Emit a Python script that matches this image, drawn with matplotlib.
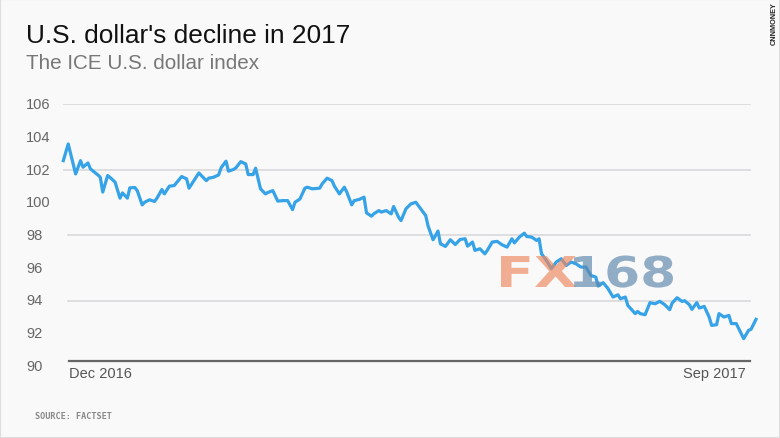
import matplotlib
matplotlib.use("Agg")
import matplotlib.pyplot as plt
import matplotlib.transforms as mtransforms
from matplotlib.textpath import TextPath
from matplotlib.patches import PathPatch
from matplotlib.font_manager import FontProperties
import numpy as np

plt.rcParams['font.family'] = ['Liberation Sans', 'DejaVu Sans']

# days after 2016-12-01 and the ICE U.S. dollar index
start = np.datetime64('2016-12-01')
days = [0, 2, 3, 5, 7, 8, 10, 11, 14, 15, 16, 18, 19, 21, 23, 24, 26, 27, 29, 30,
        32, 33, 35, 37, 38, 40, 41, 43, 45, 48, 50, 51, 55, 56, 58, 59, 61, 63, 64, 66,
        67, 69, 70, 72, 74, 75, 77, 78, 80, 82, 83, 85, 87, 89, 91, 93, 94, 96, 98, 99,
        101, 104, 105, 107, 109, 110, 112, 114, 115, 117, 118, 120, 122, 123, 125, 126, 128, 129, 131, 133,
        134, 136, 137, 139, 141, 143, 145, 147, 148, 150, 152, 153, 155, 157, 159, 161, 163, 164, 166, 167,
        169, 171, 172, 174, 176, 178, 180, 182, 183, 185, 187, 188, 190, 192, 193, 194, 196, 198, 200, 202,
        204, 206, 208, 210, 212, 214, 216, 217, 219, 221, 223, 225, 226, 228, 229, 232, 233, 234, 236, 238,
        240, 242, 244, 246, 247, 249, 251, 252, 254, 255, 257, 258, 260, 262, 263, 265, 266, 268, 270, 271,
        273, 275, 276, 278, 279, 281]
index = [102.54, 103.56, 102.95, 101.73, 102.54, 102.14, 102.40, 102.04, 101.67, 101.53,
         100.62, 101.63, 101.51, 101.23, 100.25, 100.57, 100.25, 100.88, 100.90, 100.71,
         99.84, 100.00, 100.15, 100.05, 100.25, 100.78, 100.51, 100.98, 101.02, 101.57,
         101.43, 100.86, 101.79, 101.63, 101.32, 101.47, 101.53, 101.67, 102.10, 102.51,
         101.90, 102.00, 102.10, 102.48, 102.34, 101.69, 101.69, 102.08, 100.82, 100.51,
         100.60, 100.71, 100.07, 100.10, 100.10, 99.55, 100.00, 100.20, 100.86, 100.92,
         100.82, 100.86, 101.12, 101.47, 101.32, 100.98, 100.51, 100.92, 100.62, 99.84,
         100.10, 100.17, 100.31, 99.35, 99.15, 99.30, 99.49, 99.40, 99.49, 99.29,
         99.74, 99.09, 98.88, 99.60, 99.90, 100.00, 99.60, 99.19, 98.54, 97.71,
         98.24, 97.46, 97.30, 97.71, 97.42, 97.73, 97.77, 97.32, 97.57, 97.06,
         97.16, 96.85, 97.06, 97.57, 97.61, 97.40, 97.26, 97.77, 97.52, 97.87,
         98.11, 97.91, 97.87, 97.67, 97.77, 96.85, 96.44, 95.94, 96.35, 96.55,
         96.14, 96.35, 96.24, 96.04, 96.04, 95.53, 95.43, 94.88, 95.09, 94.72,
         94.21, 94.35, 94.11, 94.21, 93.70, 93.20, 93.33, 93.20, 93.13, 93.87,
         93.80, 93.95, 93.74, 93.44, 93.85, 94.17, 93.94, 93.99, 93.74, 93.46,
         93.87, 93.54, 93.64, 92.99, 92.48, 92.52, 93.20, 92.99, 93.09, 92.59,
         92.59, 91.98, 91.67, 92.18, 92.24, 92.85]
yticks = [90, 92, 94, 96, 98, 100, 102, 104, 106]

dates = start + np.array(days).astype('timedelta64[D]')

bg = '#f9f9f9'
fig = plt.figure(figsize=(7.8, 4.39), dpi=100, facecolor=bg)
ax = fig.add_axes([63.3 / 780, 72 / 439, 692.7 / 780, 262 / 439])
ax.set_facecolor(bg)

ax.plot(dates, index, color='#36a2e8', lw=2.3, solid_joinstyle='round', clip_on=False, zorder=3)
ax.set_xlim(start, start + np.timedelta64(281, 'D'))
ax.set_ylim(90, 106)

for v in [106, 102]:
    ax.axhline(v, xmin=0.0, xmax=0.991, color='#dcdcdf', lw=1.3, zorder=1)
for v in [98, 94]:
    ax.axhline(v, xmin=0.007, xmax=0.991, color='#dcdcdf', lw=1.3, zorder=1)
ax.axhline(90.3, xmin=0.008, xmax=0.991, color='#666666', lw=1.6, zorder=2)

for s in ax.spines.values():
    s.set_visible(False)
ax.set_xticks([])
ax.set_yticks([])

# y labels, left aligned in the margin
ylab = mtransforms.blended_transform_factory(fig.transFigure, ax.transData)
for t in yticks:
    ax.text(26 / 780, t, str(t), transform=ylab, ha='left', va='center',
            color='#666666', fontsize=10.5)

fig.text(69 / 780, (439 - 378) / 439, 'Dec 2016', ha='left', va='baseline',
         color='#555555', fontsize=10.5)
fig.text(746 / 780, (439 - 378) / 439, 'Sep 2017', ha='right', va='baseline',
         color='#555555', fontsize=10.5)

fig.text(26 / 780, (439 - 42.7) / 439, "U.S. dollar's decline in 2017", ha='left',
         va='baseline', color='#111111', fontsize=18.9)
fig.text(26 / 780, (439 - 69.3) / 439, 'The ICE U.S. dollar index', ha='left',
         va='baseline', color='#777777', fontsize=14.9)
fig.text(35 / 780, (439 - 416.7) / 439, 'SOURCE: FACTSET', ha='left', va='center',
         color='#888888', fontsize=6.1, family='DejaVu Sans Mono', fontweight='bold')
fig.text(774 / 780, (439 - 24) / 439, 'CNNMONEY', ha='center', va='center', rotation=90,
         color='#222222', fontsize=5.3, fontweight='bold')

# watermark: wide bold glyphs, stretched sideways to the original's width
wm_font = FontProperties(family='DejaVu Sans', weight='bold')
wm_parts = [('FX', '#ee8a60', 501, 576), ('168', '#5f89ad', 574, 673)]
for txt, c, x0, x1 in wm_parts:
    tp = TextPath((0, 0), txt, size=42.5, prop=wm_font)
    ext = tp.get_extents()
    sx = (x1 - x0) / (ext.x1 - ext.x0)
    tr = mtransforms.Affine2D().translate(-ext.x0, 0).scale(sx, 1).translate(x0, 439 - 288)
    pp = PathPatch(tp, transform=tr, facecolor=c, edgecolor='none', alpha=0.68, zorder=5)
    fig.add_artist(pp)

fig.patches.append(plt.Rectangle((0, 0), 1, 1, transform=fig.transFigure, fill=False,
                                 edgecolor='#dddddd', lw=1.5))

fig.savefig('out.png', dpi=100, facecolor=bg)
